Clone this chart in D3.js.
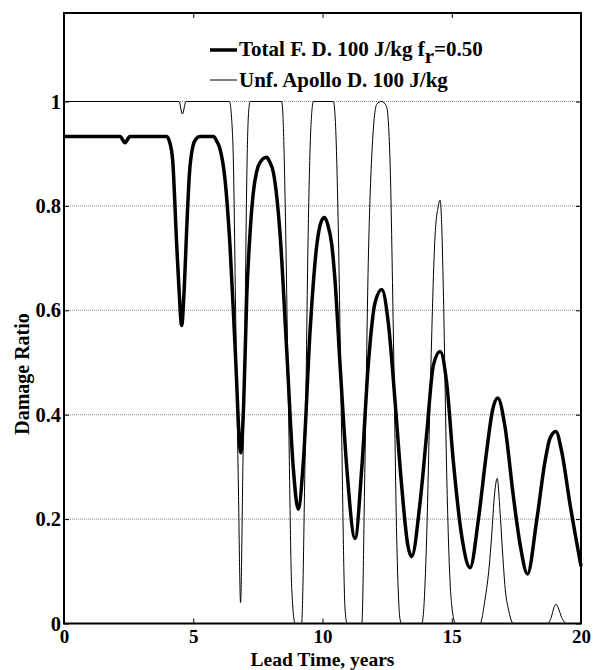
<!DOCTYPE html>
<html><head><meta charset="utf-8">
<script src="https://cdn.jsdelivr.net/npm/d3@7"></script>
<style>
html,body{margin:0;padding:0;background:#fff;}
text{font-family:"Liberation Serif","Times New Roman",serif;font-weight:bold;}
</style></head>
<body><svg id="c" width="597" height="670"></svg>
<script>
const totalX=[0,2.17,2.36,2.55,3.97,4.1,4.2,4.36,4.45,4.55,4.65,4.75,4.85,4.98,5.1,5.26,5.78,5.9,6.03,6.23,6.42,6.62,6.84,6.95,7.07,7.2,7.32,7.45,7.58,7.84,7.95,8.10,8.36,8.61,8.87,9.06,9.26,9.52,9.78,9.95,10.08,10.2,10.36,10.48,10.68,10.94,11.26,11.52,11.77,12.03,12.29,12.55,12.80,13.06,13.3,13.45,13.77,14.03,14.29,14.55,14.80,15.06,15.39,15.71,16.03,16.35,16.58,16.78,17.06,17.38,17.64,17.93,18.29,18.61,18.80,19.03,19.25,19.57,20];
const totalY=[0.933,0.933,0.921,0.933,0.933,0.92,0.89,0.725,0.64,0.571,0.64,0.76,0.86,0.913,0.928,0.933,0.933,0.925,0.91,0.85,0.725,0.528,0.327,0.42,0.627,0.75,0.824,0.865,0.883,0.893,0.885,0.864,0.745,0.528,0.298,0.219,0.311,0.561,0.725,0.77,0.778,0.765,0.725,0.66,0.495,0.298,0.163,0.298,0.495,0.614,0.64,0.574,0.43,0.265,0.15,0.128,0.23,0.363,0.495,0.521,0.462,0.311,0.166,0.107,0.199,0.33,0.409,0.432,0.377,0.245,0.153,0.095,0.199,0.311,0.355,0.368,0.33,0.23,0.11];
const apolloX=[0,4.45,4.58,4.72,6.40,6.48,6.55,6.65,6.75,6.83,6.92,7.0,7.07,7.13,7.2,8.42,8.48,8.55,8.68,8.81,8.94,9.19,9.32,9.45,9.55,9.65,10.42,10.5,10.61,10.74,10.87,10.95,11.52,11.64,11.77,11.90,12.10,12.29,12.48,12.61,12.74,12.87,13.0,13.06,13.84,13.92,14.02,14.16,14.35,14.48,14.55,14.62,14.68,14.8,14.9,15.0,15.15,16.09,16.29,16.45,16.54,16.66,16.76,16.86,16.97,17.08,17.19,17.38,18.7,18.85,18.95,19.03,19.12,19.25,19.45,20];
const apolloY=[1,1,0.976,1,1,0.97,0.89,0.56,0.25,0.04,0.3,0.56,0.85,0.97,1,1,0.96,0.82,0.43,0.067,0,0,0.30,0.76,0.95,1,1,0.96,0.76,0.363,0.03,0,0,0.30,0.69,0.89,0.995,1,0.99,0.89,0.56,0.166,0.008,0,0,0.03,0.15,0.43,0.739,0.8,0.811,0.75,0.627,0.298,0.12,0.034,0,0,0.047,0.11,0.166,0.25,0.278,0.22,0.133,0.06,0.028,0,0,0.012,0.03,0.037,0.03,0.012,0,0];
const xTicks=[0,5,10,15,20];
const yTicks=[0,0.2,0.4,0.6,0.8,1];
const yTickLabels=["0","0.2","0.4","0.6","0.8","1"];
const legendLabels=["Total F. D. 100 J/kg f","Unf. Apollo D. 100 J/kg"];

const svg=d3.select("#c");
const L=64,R=581,T=13,B=623.5;
const x=d3.scaleLinear().domain([0,20]).range([L,R]);
const y=d3.scaleLinear().domain([0,(B-T)/522]).range([B,T]);

// grid
svg.append("g").selectAll("line").data(yTicks.filter(d=>d>0)).join("line")
  .attr("x1",L).attr("x2",R).attr("y1",d=>y(d)).attr("y2",d=>y(d))
  .attr("stroke","#888").attr("stroke-width",1).attr("stroke-dasharray","1,1");

// axes
const fmt=(d)=>yTickLabels[yTicks.indexOf(d)];
const ax=(fs)=>(g)=>{g.select(".domain").remove();g.selectAll("text").style("font-size",fs).attr("fill","#000");g.selectAll("line").attr("stroke","#000");};
svg.append("g").attr("transform",`translate(0,${B})`)
  .call(d3.axisBottom(x).tickValues(xTicks).tickSizeInner(-5).tickSizeOuter(0).tickPadding(6.5).tickFormat(d3.format("d"))).call(ax("19px"));
svg.append("g").attr("transform",`translate(0,${T})`)
  .call(d3.axisTop(x).tickValues(xTicks).tickSizeInner(-5).tickSizeOuter(0).tickFormat("")).call(ax("19px"));
svg.append("g").attr("transform",`translate(${L},0)`)
  .call(d3.axisLeft(y).tickValues(yTicks).tickSizeInner(-5).tickSizeOuter(0).tickPadding(3).tickFormat(fmt)).call(ax("20.5px"));
svg.append("g").attr("transform",`translate(${R},0)`)
  .call(d3.axisRight(y).tickValues(yTicks).tickSizeInner(-5).tickSizeOuter(0).tickFormat("")).call(ax("19px"));

// lines
const line=d3.line().x(d=>x(d[0])).y(d=>y(d[1])).curve(d3.curveMonotoneX);
svg.append("path").datum(apolloX.map((v,i)=>[v,apolloY[i]])).attr("d",line)
  .attr("fill","none").attr("stroke","#000").attr("stroke-width",1);
svg.append("path").datum(totalX.map((v,i)=>[v,totalY[i]])).attr("d",line)
  .attr("fill","none").attr("stroke","#000").attr("stroke-width",3.5).attr("stroke-linejoin","round");

// box
svg.append("rect").attr("x",L).attr("y",T).attr("width",R-L).attr("height",B-T)
  .attr("fill","none").attr("stroke","#000").attr("stroke-width",2);

// legend
const lg=svg.append("g");
lg.append("line").attr("x1",210).attr("x2",237).attr("y1",50).attr("y2",50).attr("stroke","#000").attr("stroke-width",3.5);
const t1=lg.append("text").attr("x",239).attr("y",56).style("font-size","21px");
t1.append("tspan").text(legendLabels[0]);
t1.append("tspan").attr("dy",7).text("r");
t1.append("tspan").attr("dy",-7).text("=0.50");
lg.append("line").attr("x1",210).attr("x2",237).attr("y1",80).attr("y2",80).attr("stroke","#000").attr("stroke-width",1);
lg.append("text").attr("x",239).attr("y",87).style("font-size","21px").text(legendLabels[1]);

// axis titles
svg.append("text").attr("x",(L+R)/2).attr("y",666).attr("text-anchor","middle").style("font-size","19.5px").text("Lead Time, years");
svg.append("text").attr("transform","translate(29,374) rotate(-90)").attr("text-anchor","middle").style("font-size","20px").text("Damage Ratio");
</script></body></html>
